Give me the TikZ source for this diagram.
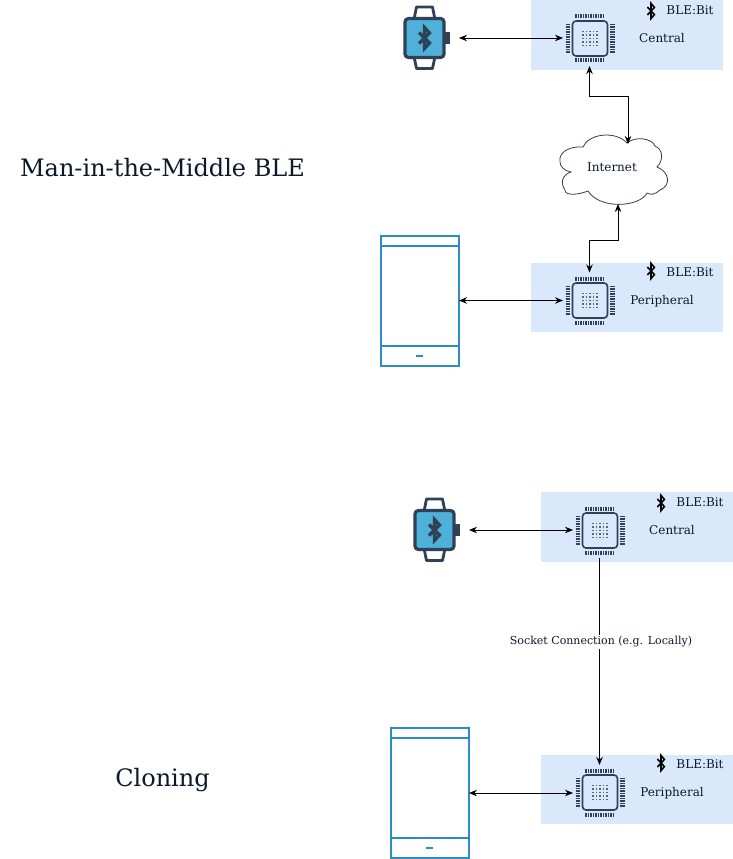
\documentclass[tikz,border=0pt]{standalone}
\usepackage{fontspec}
\setmainfont{DejaVu Serif}
\usetikzlibrary{arrows.meta}
\definecolor{boxblue}{HTML}{DAE8FC}
\definecolor{ink}{HTML}{2F4156}
\definecolor{watchblue}{HTML}{4FB0DA}
\definecolor{phoneblue}{HTML}{2E8CC4}
\definecolor{txt}{HTML}{0A1A2A}
\tikzset{
  panel/.style={fill=boxblue,draw=none,minimum width=191.5,minimum height=70,inner sep=0,outer sep=0},
  chipnode/.style={minimum width=53,minimum height=56,inner sep=0,outer sep=0},
  watchnode/.style={minimum width=69,minimum height=56,inner sep=0,outer sep=0},
  phonenode/.style={minimum width=79,minimum height=131,inner sep=0,outer sep=0},
  link/.style={draw=black,line width=0.9,{Stealth[length=8,width=6.5]}-{Stealth[length=8,width=6.5]}},
  linkone/.style={draw=black,line width=0.9,-{Stealth[length=8,width=6.5]}},
  small/.style={font=\fontsize{12}{14}\selectfont,text=txt,inner sep=0},
  title/.style={font=\fontsize{24}{28}\selectfont,text=txt,inner sep=0},
  chip/.pic={
    \draw[ink,line width=1.6,rounded corners=3.5] (-17.5,-17.5) rectangle (17.5,17.5);
    \foreach \p in {-14,-11.5,...,14.1}{
      \draw[ink,line width=1.2] (\p,-24) -- (\p,-20);
      \draw[ink,line width=1.2] (\p,24) -- (\p,20);
      \draw[ink,line width=1.2] (-24.5,\p) -- (-20,\p);
      \draw[ink,line width=1.2] (24.5,\p) -- (20,\p);
    }
    \foreach \u in {-7,-3.5,0,3.5,7}\foreach \v in {-7,-3.5,0,3.5,7}{
      \fill[ink!80!white] (\u-0.7,\v-0.7) rectangle (\u+0.7,\v+0.7);
    }
  },
  btmark/.pic={
    \draw[black,line width=1.6,line join=miter] (-3.6,-4) -- (3.4,3.6) -- (0,7.6) -- (0,-7.6) -- (3.4,-3.6) -- (-3.6,4);
  },
  watch/.pic={
    \draw[ink,line width=2.8,line join=round] (-10,-21) -- (-8,-31) -- (8,-31) -- (10,-21);
    \draw[ink,line width=2.8,line join=round] (-10,21) -- (-8,30.5) -- (8,30.5) -- (10,21);
    \fill[ink] (20,-6) rectangle (25,6);
    \draw[ink,fill=watchblue,line width=3.2,rounded corners=3.5] (-19.5,-19.5) rectangle (19.5,19.5);
    \draw[ink,line width=3.2,line join=miter] (-5.5,-5.5) -- (5,5) -- (0,10.5) -- (0,-10.5) -- (5,-5) -- (-5.5,5.5);
  },
  phone/.pic={
    \draw[phoneblue,line width=2,fill=white] (-39,-65) rectangle (39,65.5);
    \draw[phoneblue,line width=2] (-39,-55) -- (39,-55);
    \draw[phoneblue,line width=2] (-39,45.5) -- (39,45.5);
    \draw[phoneblue,line width=1.2] (-3.5,55.5) -- (3.5,55.5);
  }
}
\begin{document}
\begin{tikzpicture}[x=1pt,y=-1pt]
\useasboundingbox[fill=white] (0,0) rectangle (733,859);
% upper group
\node[panel,anchor=north west] (p1) at (531,0) {};
\node[panel,anchor=north west,minimum height=69] (p2) at (531,263) {};
\node[chipnode] (c1) at (589.5,38) {};
\pic at (590,38.5) {chip};
\node[chipnode] (c2) at (589.5,300.5) {};
\pic at (590,300.5) {chip};
\node[watchnode] (w1) at (424.5,38) {};
\pic at (424.5,38) {watch};
\node[phonenode] (ph1) at (419.5,300.5) {};
\pic at (419.5,300.5) {phone};
\pic at (651,11) {btmark};
\pic at (651,271) {btmark};
\node[small] (b1) at (690,10) {BLE:Bit};
\node[small] (b2) at (690,272) {BLE:Bit};
\node[small] (t1) at (662,38.5) {Central};
\node[small] (t2) at (662,301) {Peripheral};
\node[title] (h1) at (162.5,168) {Man-in-the-Middle BLE};
% cloud
\draw[ink,line width=0.8,fill=white]
  (560,162) .. controls (558,152) and (570,146) .. (583,147)
  .. controls (588,134) and (615,130) .. (627,143)
  .. controls (635,136) and (652,138) .. (655,146)
  .. controls (664,150) and (663,161) .. (657,167)
  .. controls (670,172) and (671,186) .. (660,190)
  .. controls (655,195) and (650,195) .. (647,193)
  .. controls (640,207) and (600,210) .. (588,191)
  .. controls (578,195) and (565,196) .. (565,190)
  .. controls (560,183) and (562,175) .. (571,172)
  .. controls (565,171) and (560,167) .. (560,162) -- cycle;
\node[small] (net) at (612,167.5) {Internet};
\coordinate (cloudtop) at (628,144);
\coordinate (cloudbot) at (618,204);
\draw[link] (c1.south) -- ++(0,30) -| (cloudtop);
\draw[link] (cloudbot) -- ++(0,36) -| (c2.north);
\draw[link] (w1.east) -- (c1.west);
\draw[link] (ph1.east) -- (c2.west);
% lower group
\node[panel,anchor=north west] (p3) at (541,492) {};
\node[panel,anchor=north west,minimum height=69] (p4) at (541,755) {};
\node[chipnode] (c3) at (599.5,530) {};
\pic at (600,530.5) {chip};
\node[chipnode] (c4) at (599.5,793) {};
\pic at (600,792.5) {chip};
\node[watchnode] (w2) at (434.5,530) {};
\pic at (434.5,530) {watch};
\node[phonenode] (ph2) at (429.5,793) {};
\pic at (429.5,792.5) {phone};
\pic at (661,503) {btmark};
\pic at (661,763) {btmark};
\node[small] (b3) at (700,502) {BLE:Bit};
\node[small] (b4) at (700,764) {BLE:Bit};
\node[small] (t3) at (672,530.5) {Central};
\node[small] (t4) at (672,793) {Peripheral};
\node[title] (h2) at (162.5,780) {Cloning};
\draw[link] (w2.east) -- (c3.west);
\draw[link] (ph2.east) -- (c4.west);
\draw[linkone] (c3.south) -- (c4.north) node[pos=0.405,fill=white,inner sep=1.5,xshift=1.5,font=\fontsize{11}{13}\selectfont,text=txt] (sock) {Socket Connection (e.g. Locally)};
\end{tikzpicture}
\end{document}
